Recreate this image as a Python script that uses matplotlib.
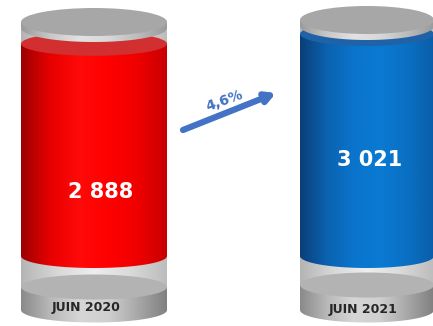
import numpy as np
import matplotlib.pyplot as plt
from matplotlib.patches import Ellipse, PathPatch
from matplotlib.path import Path
from matplotlib.colors import LinearSegmentedColormap

periods = ["JUIN 2020", "JUIN 2021"]
values = [2888, 3021]
value_labels = ["2 888", "3 021"]
growth_label = "4,6%"

# layout, in pixels of the 433x326 picture
W, H = 433, 326
centers = [94, 367]
half_widths = [73, 67]
cap_top = [22, 20]
liquid_bottom_px = 256
liquid_top_px = 34
base_top = [287, 285]
base_bottom = [310, 310]
value_text_pos = [(101, 192), (370, 160)]
period_text_pos = [(86, 308), (363, 310)]

liquid_colors = [["#9c0000", "#e80000", "#ff0a0a", "#ff0000", "#f00000", "#c80000"],
                 ["#0a3f78", "#0b62b0", "#0a74cc", "#0a7ad2", "#0a70c4", "#0a5ea8"]]
surface_colors = ["#d23030", "#1f62a8"]


def body_path(cx, rx, y_top, y_bot, ry):
    t = np.linspace(np.pi, 2 * np.pi, 80)
    xs = cx + rx * np.cos(t)
    ys = y_bot + ry * np.sin(t)
    verts = [(cx - rx, y_top)] + list(zip(xs, ys)) + [(cx + rx, y_top), (cx - rx, y_top)]
    codes = [Path.MOVETO] + [Path.LINETO] * (len(verts) - 2) + [Path.CLOSEPOLY]
    return Path(verts, codes)


def grad_fill(axis, path, colors, x0, x1, y0, y1, z):
    patch = PathPatch(path, facecolor="none", edgecolor="none", transform=axis.transData)
    axis.add_patch(patch)
    cmap = LinearSegmentedColormap.from_list("g", colors)
    im = axis.imshow(np.linspace(0, 1, 256)[None, :], cmap=cmap, extent=[x0, x1, y0, y1],
                     aspect="auto", zorder=z, interpolation="bilinear")
    im.set_clip_path(patch)


fig = plt.figure(figsize=(W / 100, H / 100), dpi=100)
fig.patch.set_facecolor("white")

back = fig.add_axes([0, 0, 1, 1])
ax = fig.add_axes([0, 0, 1, 1])
front = fig.add_axes([0, 0, 1, 1])

ppu = (liquid_bottom_px - liquid_top_px) / max(values)
liq_ry = 12 / ppu

for i in range(2):
    cx, rx = centers[i], half_widths[i]

    # glass tube
    glass = body_path(cx, rx, cap_top[i] + 6, base_top[i], -12.5)
    grad_fill(back, glass, ["#b4b4b4", "#d8d8d8", "#eeeeee", "#dadada", "#bcbcbc"],
              cx - rx, cx + rx, H, 0, 1)

    # pedestal
    side = body_path(cx, rx, base_top[i], base_bottom[i], -12.5)
    grad_fill(back, side, ["#8a8a8a", "#b8b8b8", "#d6d6d6", "#cfcfcf", "#a8a8a8", "#808080"],
              cx - rx, cx + rx, H, 0, 2)
    back.add_patch(Ellipse((cx, base_top[i]), 2 * rx, 25, facecolor="#b3b3b3",
                           edgecolor="none", zorder=3))
    back.text(period_text_pos[i][0], period_text_pos[i][1], periods[i], ha="center",
              va="center", fontsize=9, fontweight="bold", color="#262626",
              family="DejaVu Sans", zorder=4)

    # liquid, in value units
    liquid = body_path(cx, rx, values[i], 0, liq_ry)
    grad_fill(ax, liquid, liquid_colors[i], cx - rx, cx + rx, -2 * liq_ry, values[i], 2)
    ax.add_patch(Ellipse((cx, values[i]), 2 * rx, 2 * liq_ry, facecolor=surface_colors[i],
                         edgecolor="none", zorder=3))
    front.text(value_text_pos[i][0], value_text_pos[i][1], value_labels[i], ha="center",
               va="center", fontsize=15, fontweight="bold", color="white",
               family="DejaVu Sans", zorder=6)

    # lid
    lid = body_path(cx, rx, cap_top[i], cap_top[i] + 6, -14)
    grad_fill(front, lid, ["#9a9a9a", "#c8c8c8", "#e2e2e2", "#d8d8d8", "#bcbcbc", "#9a9a9a"],
              cx - rx, cx + rx, H, 0, 2)
    front.add_patch(Ellipse((cx, cap_top[i]), 2 * rx, 28, facecolor="#a7a7a7",
                            edgecolor="none", zorder=3))

front.annotate("", xy=(276, 93), xytext=(183, 130),
               arrowprops=dict(arrowstyle="-|>,head_length=0.55,head_width=0.3", lw=4.5,
                               color="#4472c4", shrinkA=0, shrinkB=0))
front.text(224, 101, growth_label, ha="center", va="center", rotation=20, fontsize=10,
           color="#4472c4", family="DejaVu Sans", fontweight="bold")

for a in (back, front):
    a.set_xlim(0, W)
    a.set_ylim(H, 0)
ax.set_xlim(0, W)
ax.set_ylim(-(H - liquid_bottom_px) / ppu, liquid_bottom_px / ppu)
for a in (back, ax, front):
    a.axis("off")
    a.patch.set_visible(False)

fig.savefig("out.png", dpi=100, facecolor="white")
